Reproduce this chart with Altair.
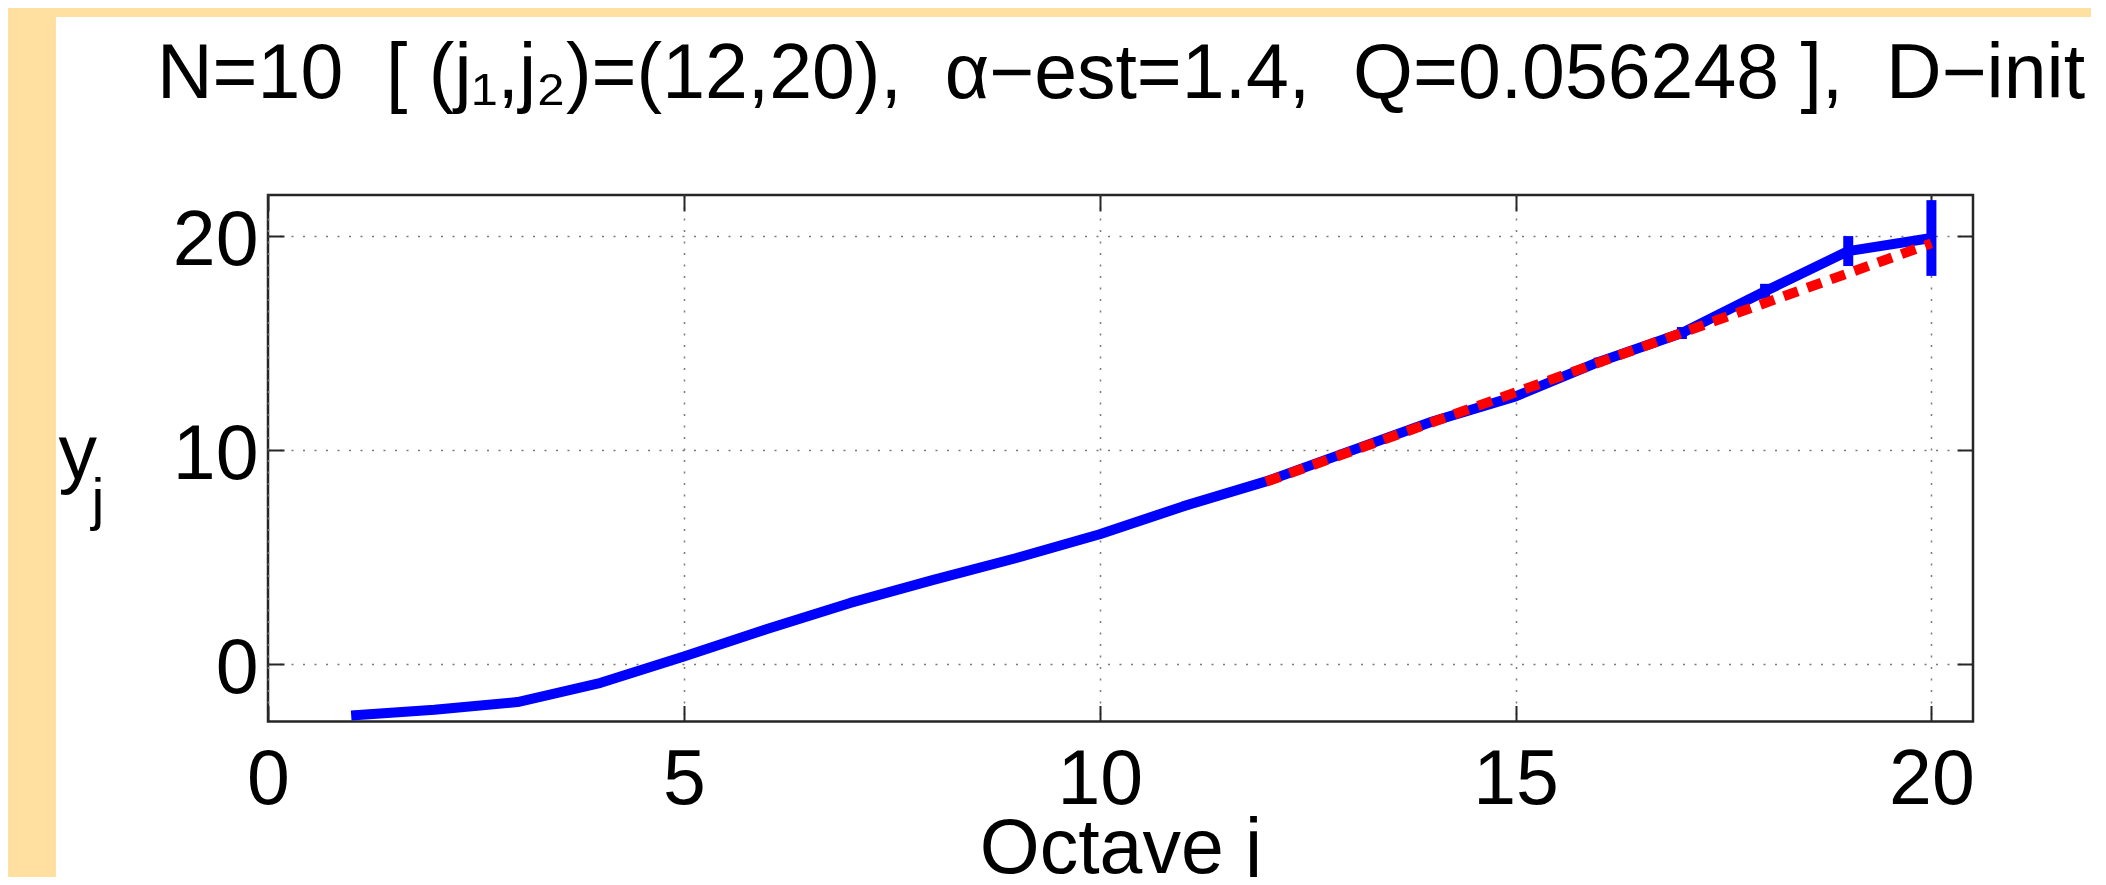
import altair as alt
import pandas as pd

# ---------------- data ----------------
octave_j = list(range(1, 21))
y_values = [-2.42, -2.15, -1.79, -0.89, 0.34, 1.62, 2.84, 3.92, 4.94, 6.05,
            7.35, 8.52, 9.92, 11.32, 12.49, 14.10, 15.45, 17.40, 19.28, 19.89]
err_octaves = [12, 13, 14, 15, 16, 17, 18, 19, 20]
err_half = [0.05, 0.07, 0.10, 0.14, 0.20, 0.28, 0.35, 0.70, 1.77]
fit_j = [12, 20]
fit_y = [8.50, 19.64]
x_ticks = [0, 5, 10, 15, 20]
y_ticks = [0, 10, 20]
x_domain = [0, 20.5]
y_domain = [-2.7, 21.9]

title_text = ("N=10\u00a0 [ (j\u2081,j\u2082)=(12,20),\u00a0 \u03b1\u2212est=1.4,\u00a0 "
              "Q=0.056248 ],\u00a0 D\u2212init")
x_title = "Octave j"
y_title_main = "y"
y_title_sub = "j"

# ---------------- styling ----------------
W, H = 1705, 526.5
FONT = "Liberation Sans, Arial, Helvetica, sans-serif"
FS = 77
BEIGE = "#FFE0A0"

df = pd.DataFrame({"j": octave_j, "y": y_values})
centers = [y_values[octave_j.index(k)] for k in err_octaves]
err_df = pd.DataFrame({
    "j": err_octaves,
    "lo": [c - e for c, e in zip(centers, err_half)],
    "hi": [c + e for c, e in zip(centers, err_half)],
})
fit_df = pd.DataFrame({"j": fit_j, "y": fit_y})

xs = alt.Scale(domain=x_domain, nice=False, zero=False)
ys = alt.Scale(domain=y_domain, nice=False, zero=False)

axis_common = dict(domain=False, tickSize=16, tickWidth=2, tickColor="#262626",
                   offset=-16, labelFont=FONT, labelFontSize=FS, labelColor="black",
                   titleFont=FONT, titleFontSize=FS, titleFontWeight="normal",
                   titleColor="black", labelFlush=False, labelOverlap=False)

x_axis_main = alt.Axis(orient="bottom", values=x_ticks, title=x_title, grid=True,
                       labelBaseline="alphabetic", labelPadding=81.5,
                       titleBaseline="alphabetic", titleY=166.5, **axis_common)
y_axis_main = alt.Axis(orient="left", values=y_ticks, title=y_title_main, grid=True,
                       labelBaseline="alphabetic", labelOffset=29, labelPadding=10,
                       labelAlign="right", titleAngle=0, titleAlign="left",
                       titleBaseline="alphabetic", titleX=-226, titleY=283,
                       **axis_common)
# top axis: inner ticks + the figure title
x_axis_top = alt.Axis(orient="top", values=x_ticks, title=title_text, grid=False,
                      labels=False, titleBaseline="alphabetic", titleY=-114,
                      **axis_common)
y_axis_right = alt.Axis(orient="right", values=y_ticks, title=None, grid=False,
                        labels=False, **axis_common)
# subscript of the y title
y_axis_sub = alt.Axis(orient="left", values=y_ticks, title=y_title_sub, grid=False,
                      labels=False, ticks=False, domain=False, offset=0,
                      titleFont=FONT, titleFontSize=58, titleFontWeight="normal",
                      titleColor="black", titleAngle=0, titleAlign="left",
                      titleBaseline="alphabetic", titleX=-177, titleY=323)

one = alt.Data(values=[{}])
strip_left = alt.Chart(one).mark_rect(color=BEIGE).encode(
    x=alt.value(-262), x2=alt.value(-212), y=alt.value(-190), y2=alt.value(690))
strip_top = alt.Chart(one).mark_rect(color=BEIGE).encode(
    x=alt.value(-262), x2=alt.value(1830), y=alt.value(-190), y2=alt.value(-178))

ebars = alt.Chart(err_df).mark_rule(color="#0000FF", strokeWidth=10).encode(
    x=alt.X("j:Q", scale=xs, axis=None),
    y=alt.Y("lo:Q", scale=ys, axis=y_axis_sub),
    y2="hi:Q")

blue = alt.Chart(df).mark_line(color="#0000FF", strokeWidth=10, strokeJoin="round").encode(
    x=alt.X("j:Q", scale=xs, axis=x_axis_main),
    y=alt.Y("y:Q", scale=ys, axis=y_axis_main))

red = alt.Chart(fit_df).mark_line(color="#FF0000", strokeWidth=10,
                                  strokeDash=[15, 10]).encode(
    x=alt.X("j:Q", scale=xs, axis=x_axis_top),
    y=alt.Y("y:Q", scale=ys, axis=y_axis_right))

chart = alt.layer(strip_left, strip_top, ebars, blue, red).resolve_axis(
    x="independent", y="independent"
).properties(
    width=W, height=H,
    padding={"left": 260, "top": 187, "right": 118, "bottom": 155},
    autosize=alt.AutoSizeParams(type="none"),
    background="#FFFFFF",
).configure_view(
    stroke="#262626", strokeWidth=2.5
).configure_axis(
    gridColor="#7a7a7a", gridDash=[2, 9.5], gridWidth=1.5, gridOpacity=1
)

chart.save("out.html", embed_options={"renderer": "svg", "actions": False})
